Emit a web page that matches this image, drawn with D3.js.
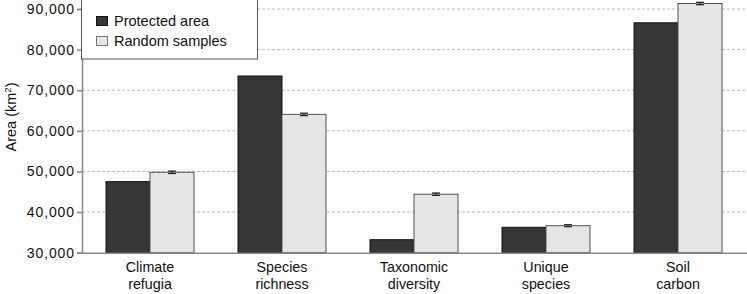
<!DOCTYPE html>
<html><head><meta charset="utf-8">
<script src="https://cdn.jsdelivr.net/npm/d3@7"></script>
<style>body{margin:0;background:#fff;} text{font-family:Arial,"Liberation Sans",sans-serif;}</style>
</head><body><svg id="c" width="747" height="294"></svg>
<script>
const categories = [["Climate","refugia"],["Species","richness"],["Taxonomic","diversity"],["Unique","species"],["Soil","carbon"]];
const seriesNames = ["Protected area","Random samples"];
const protectedArea = [47500, 73500, 33200, 36250, 86600];
const randomSamples = [49800, 64050, 44400, 36650, 91350];
const randomErr = [300, 300, 300, 250, 300];
const yTicks = [30000,40000,50000,60000,70000,80000,90000];

const svg = d3.select("#c");
const mLeft = 82, mTop = 9, mBottom = 252.7;
const y = d3.scaleLinear().domain([30000, 90000]).range([mBottom, mTop]);
const x0 = d3.scaleBand().domain(d3.range(categories.length)).range([84, 744]).paddingInner(0).paddingOuter(0);
const bw = x0.bandwidth()/3;

// grid
svg.append("g").selectAll("line").data(yTicks.slice(1)).join("line")
  .attr("x1", mLeft).attr("x2", 747).attr("y1", d=>y(d)).attr("y2", d=>y(d))
  .attr("stroke", "#bbb").attr("stroke-dasharray", "3,2").attr("stroke-width", 1);

// bars
const g = svg.append("g");
categories.forEach((c,i)=>{
  const cx = x0(i) + x0.bandwidth()/2;
  g.append("rect").attr("x", cx-bw).attr("width", bw).attr("y", y(protectedArea[i])).attr("height", mBottom - y(protectedArea[i]))
    .attr("fill", "#363636").attr("stroke", "#111").attr("stroke-width", 1);
  g.append("rect").attr("x", cx).attr("width", bw).attr("y", y(randomSamples[i])).attr("height", mBottom - y(randomSamples[i]))
    .attr("fill", "#e6e6e6").attr("stroke", "#555").attr("stroke-width", 1);
  const ex = cx + bw/2;
  const y1 = y(randomSamples[i]-randomErr[i]), y2 = y(randomSamples[i]+randomErr[i]);
  g.append("rect").attr("x", ex-4).attr("width", 8).attr("y", y2).attr("height", y1-y2).attr("fill", "#999");
  g.append("line").attr("x1", ex).attr("x2", ex).attr("y1", y1).attr("y2", y2).attr("stroke","#222").attr("stroke-width",1.2);
  [y1,y2].forEach(yy=>g.append("line").attr("x1", ex-4).attr("x2", ex+4).attr("y1", yy).attr("y2", yy).attr("stroke","#222").attr("stroke-width",1.2));
});

// y axis
const ya = svg.append("g").attr("transform", `translate(${mLeft},0)`)
  .call(d3.axisLeft(y).tickValues(yTicks).tickSize(5).tickFormat(d3.format(",")));
ya.select(".domain").attr("stroke", "#888").attr("stroke-width", 1.5);
ya.selectAll(".tick line").attr("stroke", "#888").attr("stroke-width", 1.5);
ya.selectAll(".tick text").attr("font-size", 14).attr("letter-spacing", "0.9px").attr("fill", "#111").attr("x", -7).attr("font-family","Arial, Liberation Sans, sans-serif");

// x axis line
svg.append("line").attr("x1", mLeft).attr("x2", 747).attr("y1", mBottom+0.5).attr("y2", mBottom+0.5).attr("stroke", "#888").attr("stroke-width", 1.5);

// x labels
categories.forEach((c,i)=>{
  const cx = x0(i) + x0.bandwidth()/2;
  const t = svg.append("text").attr("x", cx).attr("y", 272).attr("text-anchor", "middle").attr("font-size", 14.3).attr("fill", "#111");
  t.append("tspan").attr("x", cx).attr("dy", 0).text(c[0]);
  t.append("tspan").attr("x", cx).attr("dy", 17).text(c[1]);
});

// y label
const yl = svg.append("text").attr("transform", "translate(16,117) rotate(-90)").attr("text-anchor", "middle").attr("font-size", 14.5).attr("fill", "#111");
yl.append("tspan").text("Area (km");
yl.append("tspan").attr("font-size", 9.5).attr("dy", -5).text("2");
yl.append("tspan").attr("dy", 5).text(")");

// legend
const lg = svg.append("g");
lg.append("rect").attr("x", 81.5).attr("y", -1).attr("width", 176).attr("height", 60).attr("fill", "#fff").attr("stroke", "#555").attr("stroke-width", 1);
const lcol = ["#363636", "#e6e6e6"];
seriesNames.forEach((s,i)=>{
  const yy = 16.5 + i*20;
  lg.append("rect").attr("x", 96.5).attr("y", yy).attr("width", 11).attr("height", 9).attr("fill", lcol[i]).attr("stroke", i ? "#777" : "#111");
  lg.append("text").attr("x", 114).attr("y", yy+9.5).attr("font-size", 14.5).attr("fill", "#111").text(s);
});
</script></body></html>
